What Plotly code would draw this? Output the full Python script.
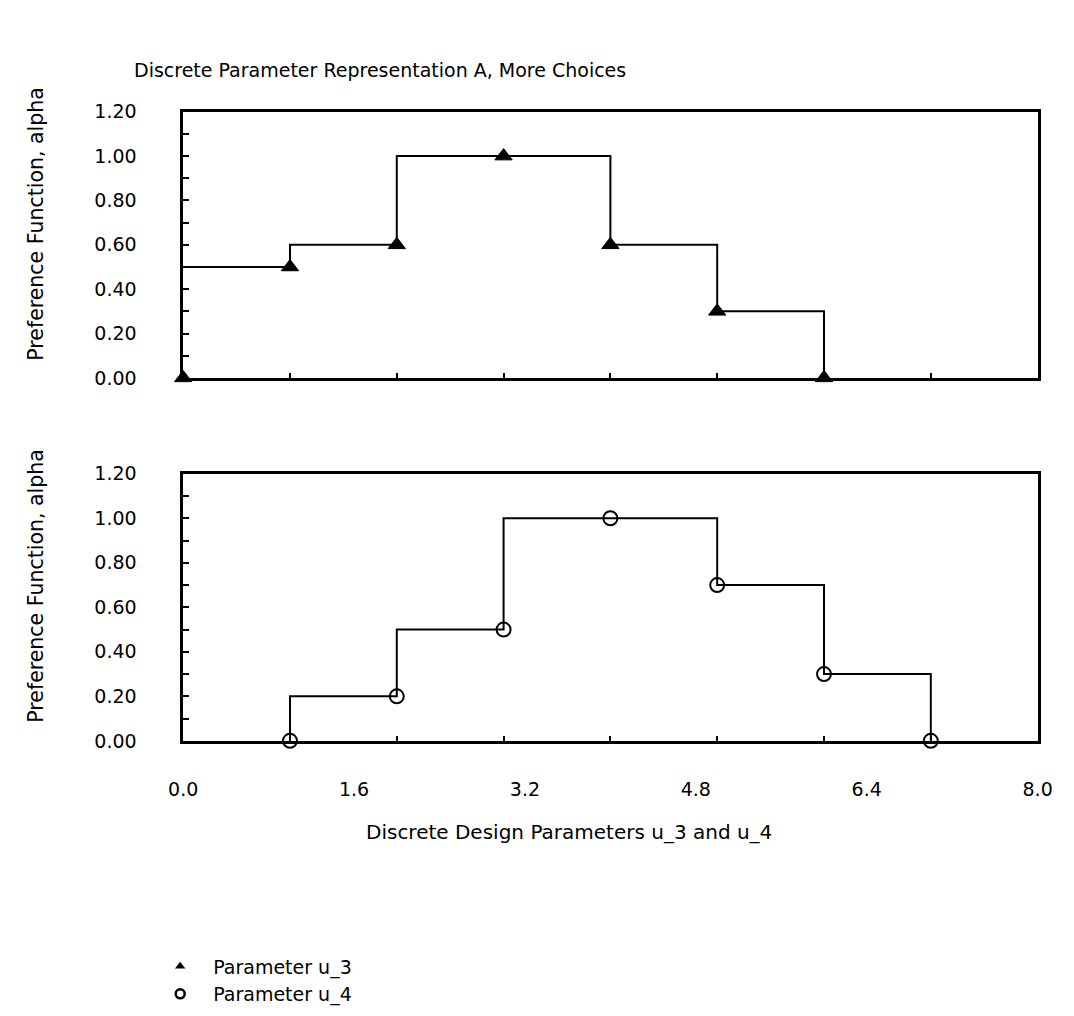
import plotly.graph_objects as go

# Parameter u_3: discrete choices and their preference values
u3_x = [0, 1, 2, 3, 4, 5, 6]
u3_alpha = [0.0, 0.5, 0.6, 1.0, 0.6, 0.3, 0.0]
# step outline for u_3 (edge position, level held to the next edge)
u3_step_x = [0, 1, 2, 4, 5, 6]
u3_step_alpha = [0.5, 0.6, 1.0, 0.6, 0.3, 0.0]

# Parameter u_4: discrete choices and their preference values
u4_x = [1, 2, 3, 4, 5, 6, 7]
u4_alpha = [0.0, 0.2, 0.5, 1.0, 0.7, 0.3, 0.0]
u4_step_x = [1, 1, 2, 3, 5, 6, 7]
u4_step_alpha = [0.0, 0.2, 0.5, 1.0, 0.7, 0.3, 0.0]

x_labels = [0.0, 1.6, 3.2, 4.8, 6.4, 8.0]
x_minor = [1, 2, 3, 4, 5, 6, 7]
y_labels = [0.0, 0.2, 0.4, 0.6, 0.8, 1.0, 1.2]

W, H = 1074, 1016
FONT = "DejaVu Sans, Liberation Sans, Arial, sans-serif"


def px_x(p):
    return p / W


def px_y(p):
    return 1 - p / H


fig = go.Figure()

# step outlines
fig.add_trace(go.Scatter(x=u3_step_x, y=u3_step_alpha, mode="lines",
                         line=dict(color="black", width=2, shape="hv"),
                         xaxis="x", yaxis="y", showlegend=False, hoverinfo="skip"))
fig.add_trace(go.Scatter(x=u4_step_x, y=u4_step_alpha, mode="lines",
                         line=dict(color="black", width=2, shape="hv"),
                         xaxis="x2", yaxis="y2", showlegend=False, hoverinfo="skip"))

# choice markers
fig.add_trace(go.Scatter(x=u3_x, y=u3_alpha, mode="markers", cliponaxis=False,
                         marker=dict(symbol="triangle-up", size=15, color="black",
                                     line=dict(color="black", width=1)),
                         xaxis="x", yaxis="y", showlegend=False))
fig.add_trace(go.Scatter(x=u4_x, y=u4_alpha, mode="markers", cliponaxis=False,
                         marker=dict(symbol="circle-open", size=14, color="black",
                                     line=dict(color="black", width=2)),
                         xaxis="x2", yaxis="y2", showlegend=False))

# legend entries
fig.add_trace(go.Scatter(x=[None], y=[None], mode="markers", name="Parameter u_3",
                         marker=dict(symbol="triangle-up", size=9, color="black"),
                         xaxis="x", yaxis="y"))
fig.add_trace(go.Scatter(x=[None], y=[None], mode="markers", name="Parameter u_4",
                         marker=dict(symbol="circle-open", size=9, color="black",
                                     line=dict(color="black", width=2.5)),
                         xaxis="x", yaxis="y"))

x_dom = [px_x(173), px_x(1052)]
top_dom = [px_y(375), px_y(103)]
bot_dom = [px_y(746), px_y(473)]

axis_common = dict(showline=True, linecolor="black", linewidth=2.5, mirror=True,
                   showgrid=False, zeroline=False)

yaxis_common = dict(axis_common, range=[0, 1.2], tickvals=y_labels, tickformat=".2f",
                    ticks="inside", ticklen=6, tickwidth=1.5, tickcolor="black",
                    minor=dict(dtick=0.1, tick0=0, ticks="inside", ticklen=6,
                               tickwidth=1.5, tickcolor="black"),
                    ticklabelstandoff=40,
                    tickfont=dict(family=FONT, size=19, color="black"))

fig.update_layout(
    width=W, height=H,
    margin=dict(l=0, r=0, t=0, b=0),
    paper_bgcolor="white", plot_bgcolor="white",
    xaxis=dict(axis_common, domain=x_dom, range=[0, 8], anchor="y",
               tickvals=x_minor, ticks="inside", ticklen=5, tickwidth=1.5,
               tickcolor="black", showticklabels=False),
    yaxis=dict(yaxis_common, domain=top_dom, anchor="x"),
    xaxis2=dict(axis_common, domain=x_dom, range=[0, 8], anchor="y2",
                tickvals=x_labels, ticktext=[f"{v:.1f}" for v in x_labels],
                ticks="",
                minor=dict(tickvals=x_minor, ticks="inside", ticklen=5,
                           tickwidth=1.5, tickcolor="black"),
                ticklabelstandoff=30,
                tickfont=dict(family=FONT, size=19, color="black")),
    yaxis2=dict(yaxis_common, domain=bot_dom, anchor="x2"),
    showlegend=True,
    legend=dict(x=px_x(136), y=px_y(957), xanchor="left", yanchor="top",
                font=dict(family=FONT, size=19, color="black"),
                bgcolor="rgba(0,0,0,0)", itemwidth=56, tracegroupgap=0),
    annotations=[
        dict(text="Discrete Parameter Representation A, More Choices",
             xref="paper", yref="paper", x=px_x(120), y=px_y(60),
             xanchor="left", yanchor="middle", showarrow=False,
             font=dict(family=FONT, size=19, color="black")),
        dict(text="Preference Function, alpha", textangle=-90,
             xref="paper", yref="paper", x=px_x(22), y=px_y(218),
             xanchor="center", yanchor="middle", showarrow=False,
             font=dict(family=FONT, size=20.5, color="black")),
        dict(text="Preference Function, alpha", textangle=-90,
             xref="paper", yref="paper", x=px_x(22), y=px_y(588),
             xanchor="center", yanchor="middle", showarrow=False,
             font=dict(family=FONT, size=20.5, color="black")),
        dict(text="Discrete Design Parameters u_3 and u_4",
             xref="paper", yref="paper", x=px_x(570), y=px_y(839),
             xanchor="center", yanchor="middle", showarrow=False,
             font=dict(family=FONT, size=20, color="black")),
    ],
)

# page without body margin so the figure fills the window exactly
fig.write_html(
    "out.html",
    post_script="document.body.style.margin='0';document.body.style.overflow='hidden';",
)
